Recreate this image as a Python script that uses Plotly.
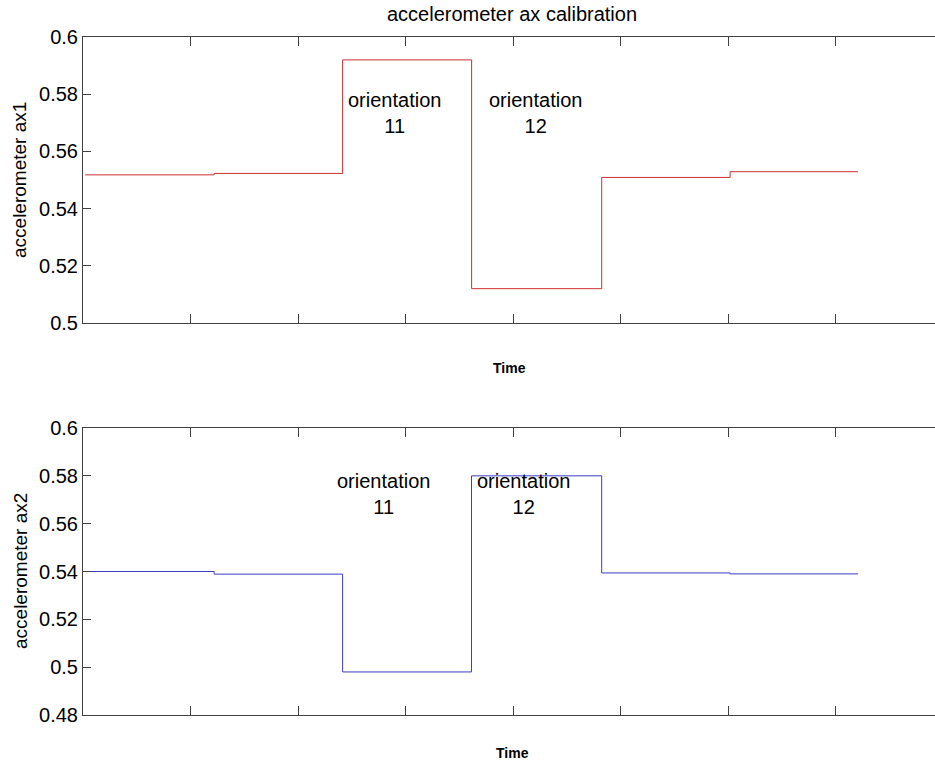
import plotly.graph_objects as go

# ---- data ----
time_top = [0.02, 1.22, 2.415, 3.615, 4.825, 6.02, 7.21]
ax1 = [0.5518, 0.5523, 0.5920, 0.5120, 0.5509, 0.5529, 0.5529]

time_bot = [0.02, 1.22, 2.415, 3.614, 4.825, 6.02, 7.21]
ax2 = [0.5400, 0.5389, 0.4980, 0.5800, 0.5394, 0.5390, 0.5390]

y1_ticks = [0.5, 0.52, 0.54, 0.56, 0.58, 0.6]
y1_labels = ["0.5", "0.52", "0.54", "0.56", "0.58", "0.6"]
y2_ticks = [0.48, 0.5, 0.52, 0.54, 0.56, 0.58, 0.6]
y2_labels = ["0.48", "0.5", "0.52", "0.54", "0.56", "0.58", "0.6"]
x_ticks = [0, 1, 2, 3, 4, 5, 6, 7]

FONT = "Liberation Sans, Arial, sans-serif"
AX = "#404040"

fig = go.Figure()
fig.add_trace(go.Scatter(x=time_top, y=ax1, mode="lines", line=dict(color="#cc2f2f", width=1, shape="hv"),
                         xaxis="x", yaxis="y", showlegend=False))
fig.add_trace(go.Scatter(x=time_bot, y=ax2, mode="lines", line=dict(color="#3c3cc4", width=1, shape="hv"),
                         xaxis="x2", yaxis="y2", showlegend=False))

W, H, L = 935, 767, 83
xr = [0, (W - L) / 107.5]

def xa(anchor):
    return dict(range=xr, tickvals=x_ticks, showticklabels=False, ticks="inside", ticklen=9,
                tickcolor=AX, showline=True, linecolor=AX, linewidth=1, mirror="ticks",
                showgrid=False, zeroline=False, anchor=anchor, domain=[0, 1], automargin=False)

def ya(anchor, rng, tv, tt, dom):
    return dict(range=rng, tickvals=tv, ticktext=tt, ticks="inside", ticklen=8, tickcolor=AX,
                showline=True, linecolor=AX, linewidth=1, mirror=False, showgrid=False,
                zeroline=False, anchor=anchor, domain=dom, automargin=False,
                tickfont=dict(family=FONT, size=20, color="black"))

fig.update_layout(
    width=W, height=H,
    margin=dict(l=L, r=0, t=0, b=0, autoexpand=False),
    paper_bgcolor="white", plot_bgcolor="white",
    font=dict(family=FONT, color="black"),
    xaxis=xa("y"),
    yaxis=ya("x", [0.5, 0.6], y1_ticks, y1_labels, [1 - 323 / H, 1 - 37 / H]),
    xaxis2=xa("y2"),
    yaxis2=ya("x2", [0.48, 0.6], y2_ticks, y2_labels, [1 - 715 / H, 1 - 428 / H]),
    title=dict(text="accelerometer ax calibration", font=dict(family=FONT, size=20, color="black"),
               xref="paper", x=(512 - L) / (W - L), xanchor="center",
               yref="container", y=1 - 14 / H, yanchor="middle", automargin=False),
)

ann = []
def px2paper(px):
    return (px - L) / (W - L)

# axis titles
ann.append(dict(text="accelerometer ax1", textangle=-90, xref="paper", yref="paper",
                x=px2paper(20), y=1 - 180 / H, showarrow=False, xanchor="center", yanchor="middle",
                font=dict(family=FONT, size=19)))
ann.append(dict(text="accelerometer ax2", textangle=-90, xref="paper", yref="paper",
                x=px2paper(20), y=1 - 571 / H, showarrow=False, xanchor="center", yanchor="middle",
                font=dict(family=FONT, size=19)))
ann.append(dict(text="<b>Time</b>", xref="paper", yref="paper", x=px2paper(510), y=1 - 368 / H,
                showarrow=False, xanchor="center", yanchor="middle", font=dict(family=FONT, size=14)))
ann.append(dict(text="<b>Time</b>", xref="paper", yref="paper", x=px2paper(512), y=1 - 753 / H,
                showarrow=False, xanchor="center", yanchor="middle", font=dict(family=FONT, size=14)))

# orientation labels
labels_top = [("orientation<br>11", 2.902, 0.5736), ("orientation<br>12", 4.205, 0.5736)]
labels_bot = [("orientation<br>11", 2.791, 0.5722), ("orientation<br>12", 4.102, 0.5722)]
for t, x, y in labels_top:
    ann.append(dict(text=t, xref="x", yref="y", x=x, y=y, showarrow=False, xanchor="center",
                    yanchor="middle", font=dict(family=FONT, size=20)))
for t, x, y in labels_bot:
    ann.append(dict(text=t, xref="x2", yref="y2", x=x, y=y, showarrow=False, xanchor="center",
                    yanchor="middle", font=dict(family=FONT, size=20)))
fig.update_layout(annotations=ann)

fig.write_html("out.html", config={"displayModeBar": False},
               post_script="document.body.style.margin='0';document.body.style.overflow='hidden';")
